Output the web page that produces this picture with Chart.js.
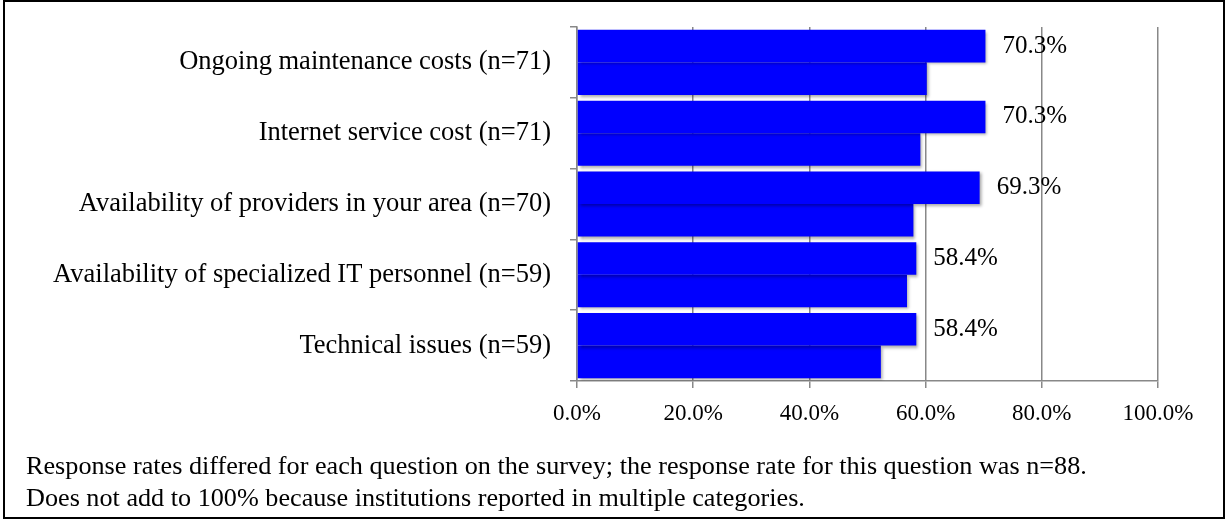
<!DOCTYPE html>
<html>
<head>
<meta charset="utf-8">
<script src="https://cdn.jsdelivr.net/npm/chart.js@4.4.0/dist/chart.umd.min.js"></script>
<style>
  html, body { margin: 0; padding: 0; background: #fff; }
  #wrap { position: relative; width: 1225px; height: 519px; }
  #frame { position: absolute; left: 3px; top: 0px; width: 1218px; height: 515px; border: 2px solid #000; }
  canvas { position: absolute; left: 0; top: 0; }
  .note { position: absolute; left: 26px; font-family: "Liberation Serif", "Times New Roman", serif; font-size: 26.2px; line-height: 26px; color: #000; white-space: nowrap; }
</style>
</head>
<body>
<div id="wrap">
  <div id="frame"></div>
  <canvas id="barChart" width="1225" height="519"></canvas>
  <div class="note" style="top:453px">Response rates differed for each question on the survey; the response rate for this question was n=88.</div>
  <div class="note" style="top:485px">Does not add to 100% because institutions reported in multiple categories.</div>
</div>
<script>
// DATA
const categories = [
  'Ongoing maintenance costs (n=71)',
  'Internet service cost (n=71)',
  'Availability of providers in your area (n=70)',
  'Availability of specialized IT personnel (n=59)',
  'Technical issues (n=59)'
];
const seriesA = [70.3, 70.3, 69.3, 58.4, 58.4];
const seriesB = [60.2, 59.1, 57.9, 56.8, 52.3];
const xTicks = [0, 20, 40, 60, 80, 100];

const serif = '"Liberation Serif", "Times New Roman", serif';
Chart.defaults.color = '#000';
Chart.defaults.font.family = serif;

// shadow under the bars
const barShadow = {
  id: 'barShadow',
  beforeDatasetsDraw(chart) {
    const c = chart.ctx;
    c.save();
    c.shadowColor = 'rgba(0,0,0,0.35)';
    c.shadowBlur = 3;
    c.shadowOffsetX = 2;
    c.shadowOffsetY = 2;
  },
  afterDatasetsDraw(chart) {
    chart.ctx.restore();
  }
};

// percent labels next to the first series
const valueLabels = {
  id: 'valueLabels',
  afterDatasetsDraw(chart) {
    const c = chart.ctx;
    const meta = chart.getDatasetMeta(0);
    c.save();
    c.font = '25px ' + serif;
    c.fillStyle = '#000';
    c.textAlign = 'left';
    c.textBaseline = 'middle';
    meta.data.forEach((bar, i) => {
      c.fillText(seriesA[i].toFixed(1) + '%', bar.x + 17, bar.y);
    });
    c.restore();
  }
};

let ctx = document.getElementById('barChart').getContext('2d');
let chart = new Chart(ctx, {
  type: 'bar',
  data: {
    labels: categories,
    datasets: [
      { data: seriesA, backgroundColor: '#0000FF', borderWidth: 0 },
      { data: seriesB, backgroundColor: '#0000FF', borderWidth: 0 }
    ]
  },
  options: {
    indexAxis: 'y',
    responsive: false,
    animation: false,
    events: [],
    categoryPercentage: 0.92,
    barPercentage: 1.0,
    layout: { padding: { top: 27, right: 67, left: 0, bottom: 0 } },
    plugins: { legend: { display: false }, tooltip: { enabled: false } },
    scales: {
      x: {
        min: 0,
        max: 100,
        afterBuildTicks(scale) {
          scale.ticks = xTicks.map(v => ({ value: v }));
        },
        afterFit(scale) {
          scale.height = 138;
          scale.paddingLeft = 0;
          scale.paddingRight = 0;
        },
        ticks: {
          padding: 12,
          font: { size: 23 },
          callback: v => v.toFixed(1) + '%'
        },
        grid: { color: '#888', lineWidth: 1.5, tickLength: 7 },
        border: { color: '#888', width: 1.5 }
      },
      y: {
        afterFit(scale) {
          scale.width = 577;
          scale.paddingTop = 0;
          scale.paddingBottom = 0;
        },
        ticks: { padding: 19, font: { size: 26.5 } },
        grid: { drawOnChartArea: false, color: '#888', lineWidth: 1.5, tickLength: 7 },
        border: { color: '#888', width: 1.5 }
      }
    }
  },
  plugins: [barShadow, valueLabels]
});
</script>
</body>
</html>
